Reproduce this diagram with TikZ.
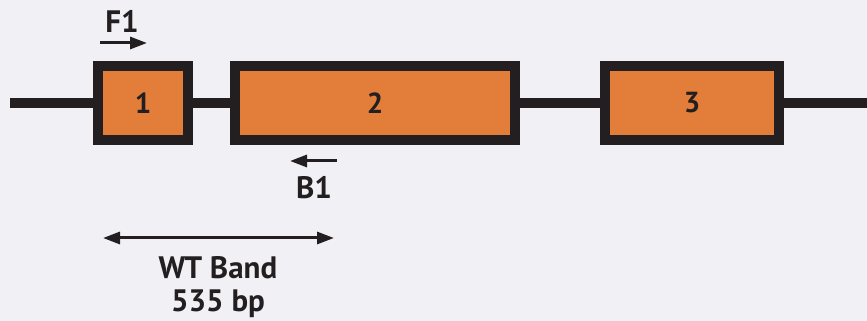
\documentclass[tikz,border=0pt]{standalone}
\usepackage{fontspec}
\setmainfont{PT Sans}
\usetikzlibrary{arrows.meta}
\definecolor{exonfill}{RGB}{226,126,58}
\definecolor{ink}{RGB}{35,31,32}
\definecolor{paper}{RGB}{241,241,245}
\tikzset{
  exon/.style={draw=ink,fill=exonfill,line width=10pt,minimum height=74pt,
    inner sep=0pt,text=ink,font=\bfseries\fontsize{29}{29}\selectfont},
  intron/.style={ink,line width=10pt},
  tip/.tip={Triangle[length=17pt,width=12pt]},
  primer/.style={ink,line width=3pt,-tip},
  label/.style={text=ink,font=\bfseries\fontsize{31}{31}\selectfont,inner sep=0pt}
}
\begin{document}
\begin{tikzpicture}[x=1pt,y=1pt]
\useasboundingbox[fill=paper] (0,0) rectangle (867,321);
\coordinate (lend) at (10,218);
\coordinate (rend) at (867,218);
\node[exon,minimum width=90pt] (ex1) at (143,218) {1};
\node[exon,minimum width=280pt] (ex2) at (375,218) {2};
\node[exon,minimum width=174pt] (ex3) at (692,218) {3};
\draw[intron] (lend) -- (ex1.west);
\draw[intron] (ex1.east) -- (ex2.west);
\draw[intron] (ex2.east) -- (ex3.west);
\draw[intron] (ex3.east) -- (rend);
% primers
\coordinate (f1s) at (100,278);
\coordinate (f1e) at (147,278);
\draw[primer] (f1s) -- (f1e);
\node[label] (f1) at (122,300) {F1};
\coordinate (b1s) at (337,160);
\coordinate (b1e) at (290,160);
\draw[primer] (b1s) -- (b1e);
\node[label] (b1) at (314,133) {B1};
% product
\coordinate (wts) at (103,83);
\coordinate (wte) at (334,83);
\draw[primer,tip-tip] (wts) -- (wte);
\node[label] (wt) at (218,53) {WT Band};
\node[label] (bp) at (218,17) {535 bp};
\end{tikzpicture}
\end{document}
